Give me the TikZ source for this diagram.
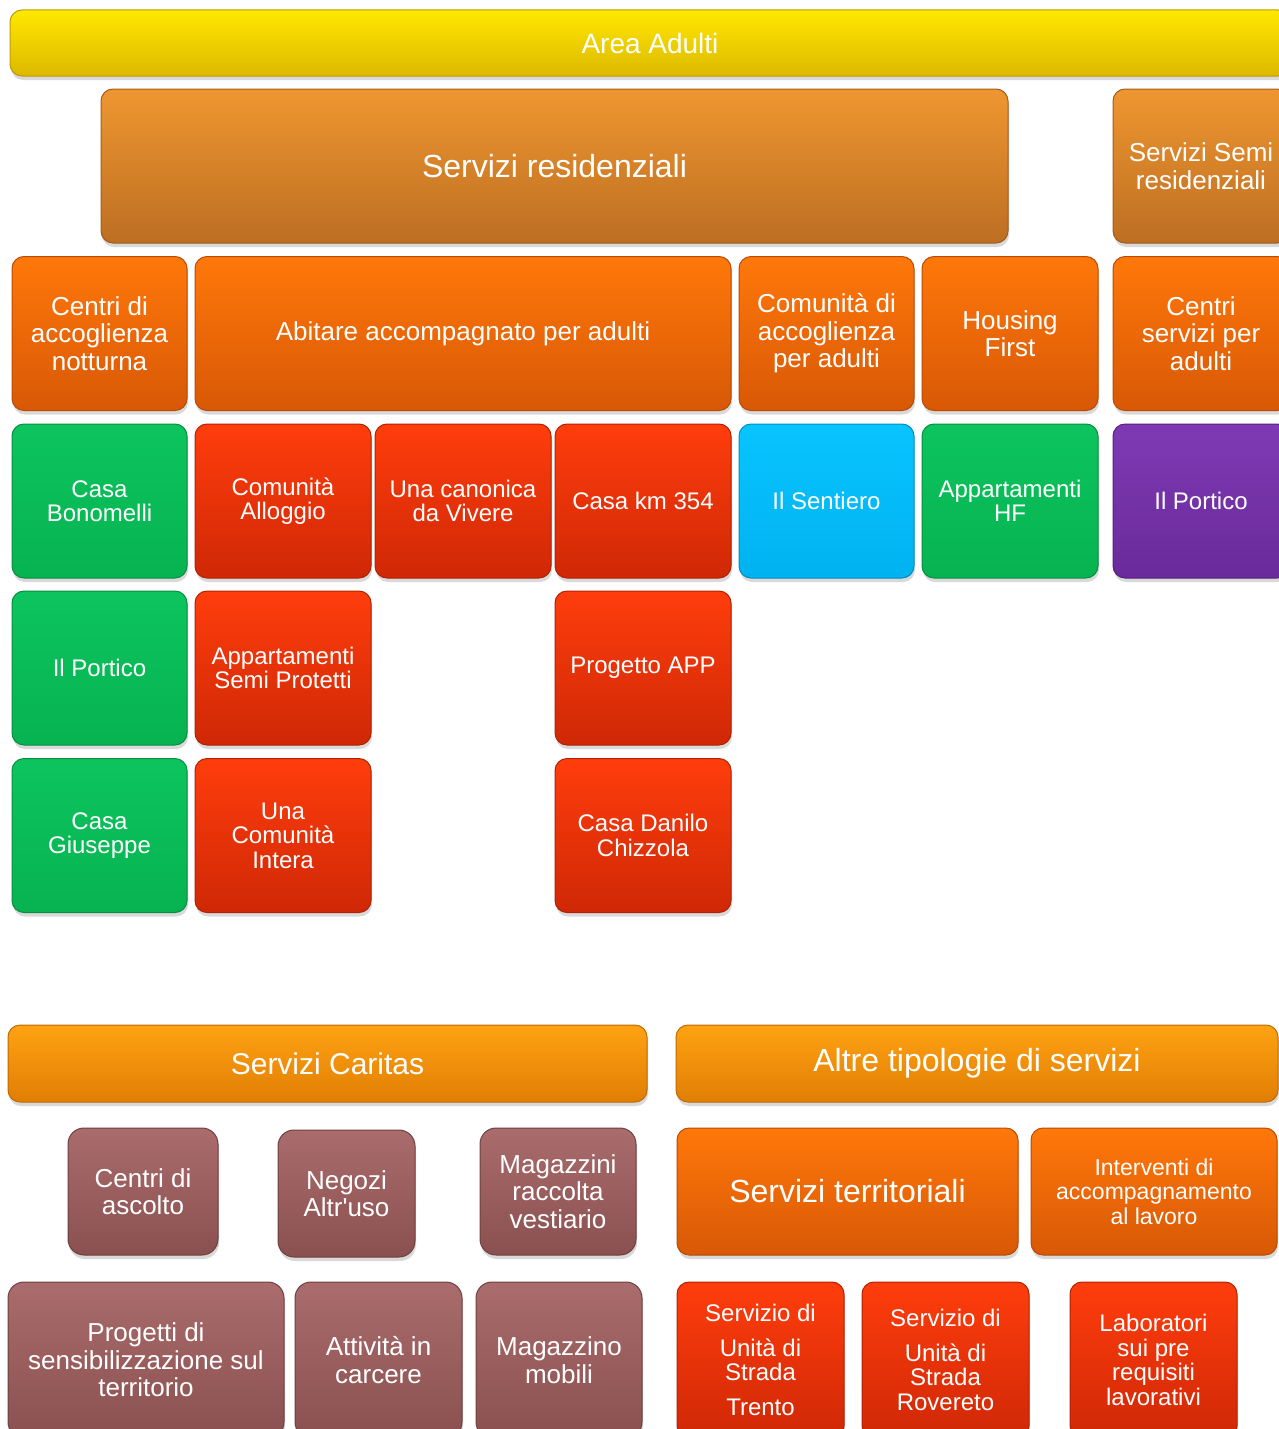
\documentclass[tikz,border=0pt]{standalone}
\usepackage{fontspec}
\setmainfont{Liberation Sans}
\usetikzlibrary{shadows}

\definecolor{yelTop}{HTML}{FFE800}
\definecolor{yelBot}{HTML}{DDB800}
\definecolor{brnTop}{HTML}{EE9630}
\definecolor{brnBot}{HTML}{BD6E22}
\definecolor{orgTop}{HTML}{FF780A}
\definecolor{orgBot}{HTML}{D85806}
\definecolor{redTop}{HTML}{FF3D0C}
\definecolor{redBot}{HTML}{CF2806}
\definecolor{grnTop}{HTML}{0CC45E}
\definecolor{grnBot}{HTML}{07B350}
\definecolor{cyaTop}{HTML}{08C4FF}
\definecolor{cyaBot}{HTML}{00B2F0}
\definecolor{purTop}{HTML}{7E3AB4}
\definecolor{purBot}{HTML}{6A2A9A}
\definecolor{ambTop}{HTML}{FFA212}
\definecolor{ambBot}{HTML}{E07E04}
\definecolor{mauTop}{HTML}{AA6C6C}
\definecolor{mauBot}{HTML}{8A5050}

\tikzset{
  box/.style={rounded corners=12pt, text=white, align=center, inner sep=1pt,
    minimum width=176pt, minimum height=154pt, line width=1pt,
    drop shadow={shadow xshift=1pt, shadow yshift=-4pt, opacity=0.3}},
  yellowbox/.style={box, top color=yelTop, bottom color=yelBot, draw=yelBot!85!black},
  brownbox/.style={box, top color=brnTop, bottom color=brnBot, draw=brnBot!85!black},
  orangebox/.style={box, top color=orgTop, bottom color=orgBot, draw=orgBot!85!black},
  redbox/.style={box, top color=redTop, bottom color=redBot, draw=redBot!85!black},
  greenbox/.style={box, top color=grnTop, bottom color=grnBot, draw=grnBot!80!black},
  cyanbox/.style={box, top color=cyaTop, bottom color=cyaBot, draw=cyaBot!80!black},
  purplebox/.style={box, top color=purTop, bottom color=purBot, draw=purBot!80!black},
  amberbox/.style={box, top color=ambTop, bottom color=ambBot, draw=ambBot!85!black},
  mauvebox/.style={box, rounded corners=16pt, top color=mauTop, bottom color=mauBot, draw=mauBot!80!black},
  big/.style={font=\fontsize{32}{35}\selectfont},
  head/.style={font=\fontsize{28}{31}\selectfont},
  mid/.style={font=\fontsize{26}{27.5}\selectfont},
  small/.style={font=\fontsize{24}{24.5}\selectfont},
}

\begin{document}
\begin{tikzpicture}[x=1pt, y=-1pt]
  \useasboundingbox (0,0) rectangle (1279,1429);

  % area adulti
  \node[yellowbox, head, minimum width=1280pt, minimum height=66pt] (adulti) at (650,43) {Area Adulti};
  \node[brownbox, big, minimum width=907pt] (resid) at (554.5,166) {Servizi residenziali};
  \node[brownbox, mid] (semiresid) at (1201,166) {Servizi Semi\\residenziali};

  \node[orangebox, mid, minimum width=175pt] (notturna) at (99.5,333.5) {Centri di\\accoglienza\\notturna};
  \node[orangebox, mid, minimum width=536pt] (abitare) at (463,333.5) {Abitare accompagnato per adulti};
  \node[orangebox, mid, minimum width=175pt] (comunita) at (826.5,333.5) {Comunità di\\accoglienza\\per adulti};
  \node[orangebox, mid] (housing) at (1010,333.5) {Housing\\First};
  \node[orangebox, mid] (centriserv) at (1201,333.5) {Centri\\servizi per\\adulti};

  \node[greenbox, small, minimum width=175pt] (bonomelli) at (99.5,501) {Casa\\Bonomelli};
  \node[redbox, small] (alloggio) at (283,501) {Comunità\\Alloggio};
  \node[redbox, small] (canonica) at (463,501) {Una canonica\\da Vivere};
  \node[redbox, small] (kmtre) at (643,501) {Casa km 354};
  \node[cyanbox, small, minimum width=175pt] (sentiero) at (826.5,501) {Il Sentiero};
  \node[greenbox, small] (apphf) at (1010,501) {Appartamenti\\HF};
  \node[purplebox, small] (portico) at (1201,501) {Il Portico};

  \node[greenbox, small, minimum width=175pt] (porticob) at (99.5,668) {Il Portico};
  \node[redbox, small] (semiprot) at (283,668) {Appartamenti\\Semi Protetti};
  \node[redbox, small] (progapp) at (643,668) {Progetto APP};

  \node[greenbox, small, minimum width=175pt] (giuseppe) at (99.5,835.5) {Casa\\Giuseppe};
  \node[redbox, small] (intera) at (283,835.5) {Una\\Comunità\\Intera};
  \node[redbox, small] (chizzola) at (643,835.5) {Casa Danilo\\Chizzola};

  % servizi caritas
  \node[amberbox, font=\fontsize{30}{33}\selectfont, minimum width=639pt, minimum height=77pt] (caritas) at (327.5,1063.5) {Servizi Caritas};
  \node[mauvebox, mid, minimum width=150pt, minimum height=127pt] (ascolto) at (143,1191.5) {Centri di\\ascolto};
  \node[mauvebox, mid, minimum width=137pt, minimum height=127pt] (negozi) at (346.5,1193.5) {Negozi\\Altr\textquotesingle uso};
  \node[mauvebox, mid, minimum width=156pt, minimum height=127pt] (magazzini) at (558,1191.5) {Magazzini\\raccolta\\vestiario};
  \node[mauvebox, mid, minimum width=276pt, minimum height=156pt] (progetti) at (146,1360) {Progetti di\\sensibilizzazione sul\\territorio};
  \node[mauvebox, mid, minimum width=167pt, minimum height=156pt] (carcere) at (378.5,1360) {Attività in\\carcere};
  \node[mauvebox, mid, minimum width=166pt, minimum height=156pt] (mobili) at (559,1360) {Magazzino\\mobili};

  % altre tipologie
  \node[amberbox, big, minimum width=602pt, minimum height=77pt] (altre) at (977,1063.5) {Altre tipologie di servizi};
  \node[orangebox, big, minimum width=341pt, minimum height=127pt] (territ) at (847.5,1191.5) {Servizi territoriali};
  \node[orangebox, font=\fontsize{23}{24.5}\selectfont, minimum width=246pt, minimum height=127pt] (lavoro) at (1154,1191.5) {Interventi di\\accompagnamento\\al lavoro};
  \node[redbox, small, minimum width=167pt, minimum height=156pt] (trento) at (760.5,1360) {Servizio di\\[10pt]Unità di\\Strada\\[10pt]Trento};
  \node[redbox, small, minimum width=167pt, minimum height=156pt] (rovereto) at (945.5,1360) {Servizio di\\[10pt]Unità di\\Strada\\Rovereto};
  \node[redbox, small, minimum width=167pt, minimum height=156pt] (laboratori) at (1153.5,1360) {Laboratori\\sui pre\\requisiti\\lavorativi};
\end{tikzpicture}
\end{document}
